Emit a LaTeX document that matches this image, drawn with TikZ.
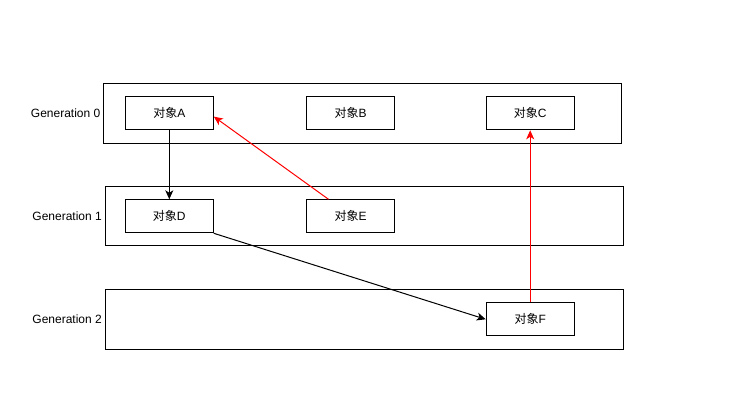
\documentclass[tikz,border=0pt]{standalone}
\usepackage{fontspec}
\setmainfont{Liberation Sans}
\newfontfamily\cjk{Noto Sans CJK SC}
\usepackage{tikz}
\usetikzlibrary{arrows.meta}
\usepackage{xcolor}

\begin{document}
\begin{tikzpicture}[x=1pt,y=-1pt,
    objbox/.style={draw, line width=1pt, minimum width=88pt, minimum height=33pt, inner sep=0pt, font=\fontsize{12pt}{14pt}\selectfont},
    genlabel/.style={anchor=east, inner sep=0pt, font=\fontsize{12pt}{14pt}\selectfont},
    ref/.style={line width=1pt, -{Stealth[length=9pt,width=8pt,inset=2.5pt]}}]
\useasboundingbox (0,0) rectangle (731,419);
    % generations
    \draw[line width=1pt] (103.5,83.5) rectangle (621.5,143.5);
    \draw[line width=1pt] (105.5,186.5) rectangle (623.5,246);
    \draw[line width=1pt] (105.5,289.5) rectangle (623.5,349.5);
    \node[genlabel] (g0) at (100.5,113) {Generation 0};
    \node[genlabel] (g1) at (102,216) {Generation 1};
    \node[genlabel] (g2) at (102,319) {Generation 2};
    % objects
    \node[objbox] (A) at (169.3,113.3) {{\cjk 对象}A};
    \node[objbox] (B) at (350.5,113.3) {{\cjk 对象}B};
    \node[objbox] (C) at (530.2,113.3) {{\cjk 对象}C};
    \node[objbox] (D) at (169.3,216.3) {{\cjk 对象}D};
    \node[objbox] (E) at (350.5,216.3) {{\cjk 对象}E};
    \node[objbox] (F) at (530.2,319.3) {{\cjk 对象}F};
    % references
    \draw[ref] (A.south) -- (D.north);
    \draw[ref] (D.south east) -- (F.west);
    \draw[ref, red] ([xshift=-22pt]E.north) -- ([yshift=-3.3pt]A.east);
    \draw[ref, red] (F.north) -- (C.south);
\end{tikzpicture}
\end{document}
